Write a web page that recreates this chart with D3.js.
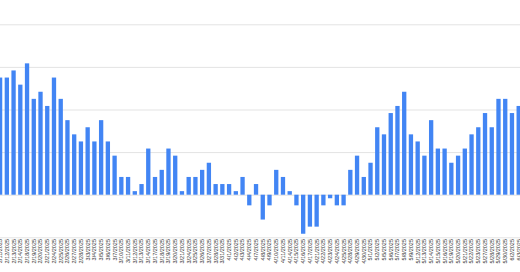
<!DOCTYPE html>
<html>
<head>
<meta charset="utf-8">
<script src="https://cdn.jsdelivr.net/npm/d3@7"></script>
<style>
  body { margin: 0; background: #fff; }
  .grid line { stroke: #e3e3e3; }
  .grid .domain { display: none; }
  .x.axis text { font-family: "Liberation Sans", Arial, sans-serif; font-size: 5.5px; fill: #333; }
  .bar { fill: #4285f4; }
</style>
</head>
<body>
<script>
var width = 520;
var height = 272;

// trading days shown (first and last are cut by the frame)
var dates = [
  '2/11/2025','2/12/2025','2/13/2025','2/14/2025','2/18/2025','2/19/2025','2/20/2025','2/21/2025',
  '2/24/2025','2/25/2025','2/26/2025','2/27/2025','2/28/2025',
  '3/3/2025','3/4/2025','3/5/2025','3/6/2025','3/7/2025','3/10/2025','3/11/2025','3/12/2025','3/13/2025','3/14/2025',
  '3/17/2025','3/18/2025','3/19/2025','3/20/2025','3/21/2025','3/24/2025','3/25/2025','3/26/2025','3/27/2025','3/28/2025',
  '3/31/2025','4/1/2025','4/2/2025','4/3/2025','4/4/2025','4/7/2025','4/8/2025','4/9/2025','4/10/2025','4/11/2025',
  '4/14/2025','4/15/2025','4/16/2025','4/17/2025','4/21/2025','4/22/2025','4/23/2025','4/24/2025','4/25/2025',
  '4/28/2025','4/29/2025','4/30/2025','5/1/2025','5/2/2025','5/5/2025','5/6/2025','5/7/2025','5/8/2025','5/9/2025',
  '5/12/2025','5/13/2025','5/14/2025','5/15/2025','5/16/2025','5/19/2025','5/20/2025','5/21/2025','5/22/2025','5/23/2025',
  '5/27/2025','5/28/2025','5/29/2025','5/30/2025','6/2/2025','6/3/2025'
];

var values = [
  16.5, 16.5, 17.5, 15.5, 18.5, 13.5, 14.5, 12.5, 16.5, 13.5,
  10.5, 8.5, 7.5, 9.5, 7.5, 10.5, 7.5, 5.5, 2.5, 2.5,
  0.5, 1.5, 6.5, 2.5, 3.5, 6.5, 5.5, 0.5, 2.5, 2.5,
  3.5, 4.5, 1.5, 1.5, 1.5, 0.5, 2.5, -1.5, 1.5, -3.5,
  -1.5, 3.5, 2.5, 0.5, -1.5, -5.5, -4.5, -4.5, -1.5, -0.5,
  -1.5, -1.5, 3.5, 5.5, 2.5, 4.5, 9.5, 8.5, 11.5, 12.5,
  14.5, 8.5, 7.5, 5.5, 10.5, 6.5, 6.5, 4.5, 5.5, 6.5,
  8.5, 9.5, 11.5, 9.5, 13.5, 13.5, 11.5, 12.5
];

var yTicks = [-6, 0, 6, 12, 18, 24, 30];

var data = dates.map(function(d, i) { return {date: d, value: values[i]}; });

var svg = d3.select("body").append("svg")
  .attr("width", width)
  .attr("height", height);

var step = 6.735;
var x = d3.scaleBand()
  .domain(dates)
  .range([0.1 - step / 2, 0.1 - step / 2 + step * dates.length])
  .paddingInner(0.36)
  .paddingOuter(0.18);

var y = d3.scaleLinear()
  .domain([-6, 30])
  .range([237.3, -18.3]);

// horizontal gridlines
svg.append("g")
  .attr("class", "grid")
  .call(d3.axisLeft(y).tickValues(yTicks).tickSize(-width).tickFormat(""))
  .selectAll("line")
  .attr("stroke", function(d) { return d === 0 ? "#d6d6d6" : "#e3e3e3"; });

svg.selectAll(".bar")
  .data(data)
  .enter()
  .append("rect")
  .attr("class", "bar")
  .attr("x", function(d) { return x(d.date); })
  .attr("width", x.bandwidth())
  .attr("y", function(d) { return y(Math.max(0, d.value)); })
  .attr("height", function(d) { return Math.abs(y(d.value) - y(0)); });

var xAxis = svg.append("g")
  .attr("class", "x axis")
  .attr("transform", "translate(0,239)")
  .call(d3.axisBottom(x).tickSize(0).tickPadding(0));

xAxis.select(".domain").remove();
xAxis.selectAll("text")
  .attr("x", 0)
  .attr("y", 0)
  .attr("dy", "0.35em")
  .attr("transform", "rotate(-90)")
  .style("text-anchor", "end");
</script>
</body>
</html>
